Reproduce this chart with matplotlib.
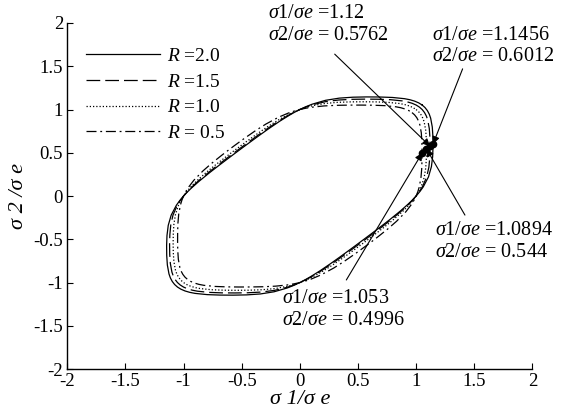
"""Hosford type yield loci for several R values, with the annotated plane-strain points."""
import numpy as np
import matplotlib
matplotlib.use("Agg")
import matplotlib.pyplot as plt
from matplotlib.ticker import FormatStrFormatter

plt.rcParams['font.family'] = ['Liberation Serif', 'DejaVu Serif']
plt.rcParams['axes.unicode_minus'] = False
plt.rcParams['mathtext.fontset'] = 'custom'
plt.rcParams['mathtext.it'] = 'Liberation Serif:italic'
plt.rcParams['mathtext.rm'] = 'Liberation Serif'

# One quarter of each locus: from the equibiaxial corner
# (sigma1 = sigma2) round the right side down to pure shear (sigma1 = -sigma2).
S1_R20 = [1.05199, 1.07650, 1.09700, 1.11316, 1.12517, 1.13918, 1.14464, 1.14554, 1.14239, 1.13166, 1.10645,
          1.06151, 1.03227, 1.0, 0.96605, 0.93162, 0.86469, 0.77493, 0.69963, 0.61822, 0.56832, 0.52573]
S2_R20 = [1.05199, 1.02268, 0.98730, 0.94619, 0.90014, 0.79743, 0.68678, 0.57277, 0.45696, 0.33950, 0.22129,
          0.10615, 0.05161, 0.0, -0.04830, -0.09316, -0.17294, -0.27123, -0.34982, -0.43275, -0.48307, -0.52573]
S1_R15 = [1.02829, 1.05225, 1.07228, 1.08808, 1.09982, 1.11351, 1.11889, 1.12000, 1.11779, 1.10978, 1.09033,
          1.05366, 1.02860, 1.0, 0.96900, 0.93678, 0.87242, 0.78380, 0.70834, 0.62622, 0.57574, 0.53262]
S2_R15 = [1.02829, 0.99964, 0.96505, 0.92487, 0.87986, 0.77946, 0.67133, 0.56000, 0.44712, 0.33293, 0.21807,
          0.10537, 0.05143, 0.0, -0.04845, -0.09368, -0.17448, -0.27433, -0.35417, -0.43835, -0.48938, -0.53262]
S1_R10 = [1.0, 1.02330, 1.04278, 1.05815, 1.06957, 1.08289, 1.08815, 1.08945, 1.08815, 1.08289, 1.06957,
          1.04278, 1.02330, 1.0, 0.97359, 0.94504, 0.88532, 0.79906, 0.72353, 0.64025, 0.58879, 0.54472]
S2_R10 = [1.0, 0.97214, 0.93850, 0.89943, 0.85566, 0.75802, 0.65289, 0.54473, 0.43526, 0.32487, 0.21391,
          0.10428, 0.05117, 0.0, -0.04868, -0.09450, -0.17706, -0.27967, -0.36177, -0.44818, -0.50047, -0.54472]
S1_R05 = [0.96468, 0.98716, 1.00595, 1.02077, 1.03179, 1.04464, 1.04976, 1.05122, 1.05081, 1.04825, 1.04145,
          1.02667, 1.01499, 1.0, 0.98171, 0.96043, 0.91143, 0.83226, 0.75765, 0.67229, 0.61867, 0.57249]
S2_R05 = [0.96468, 0.93780, 0.90536, 0.86765, 0.82543, 0.73125, 0.62986, 0.52561, 0.42032, 0.31448, 0.20829,
          0.10267, 0.05075, 0.0, -0.04909, -0.09604, -0.18229, -0.29129, -0.37883, -0.47060, -0.52587, -0.57249]

LEGEND_LABELS = [r'$\mathit{R}$ =2.0', r'$\mathit{R}$ =1.5', r'$\mathit{R}$ =1.0', r'$\mathit{R}$ = 0.5']

# annotated points: sigma1/sigma_e, sigma2/sigma_e
POINT_S1 = [1.1456, 1.12, 1.0894, 1.053]
POINT_S2 = [0.6012, 0.5762, 0.544, 0.4996]

TICKS = [-2, -1.5, -1, -0.5, 0, 0.5, 1, 1.5, 2]


def closed_locus(s1, s2):
    """Mirror the quarter about sigma1 = -sigma2 and then about the origin."""
    x = np.array(s1)
    y = np.array(s2)
    half_x = np.concatenate([x, -y[::-1][1:]])
    half_y = np.concatenate([y, -x[::-1][1:]])
    return np.concatenate([half_x, -half_x[1:]]), np.concatenate([half_y, -half_y[1:]])


def label(text1, text2):
    """Two line annotation, italic ratio and upright value."""
    return r'$\mathit{\sigma 1/\sigma e}$ ' + text1 + '\n' + r'$\mathit{\sigma 2/\sigma e}$ ' + text2


fig = plt.figure(figsize=(5.7, 4.18), dpi=100)
ax = fig.add_axes([0.118, 0.117, 0.816, 0.828])

styles = [dict(linestyle='-'),
          dict(dashes=(11, 4)),
          dict(dashes=(1, 1.6)),
          dict(dashes=(8, 3, 1.5, 3))]
quarters = [(S1_R20, S2_R20), (S1_R15, S2_R15), (S1_R10, S2_R10), (S1_R05, S2_R05)]
for (s1, s2), style, name in zip(quarters, styles, LEGEND_LABELS):
    lx, ly = closed_locus(s1, s2)
    ax.plot(lx, ly, color='black', linewidth=0.9, label=name, **style)

ax.plot(POINT_S1, POINT_S2, 'o', color='black', markersize=4.5, zorder=5)

ann = dict(fontsize=14.5, va='top', ha='left', linespacing=1.2)
arrow = dict(arrowstyle='-|>', color='black', linewidth=0.8, mutation_scale=11, shrinkA=0, shrinkB=0)

# label texts and arrows
ax.text(-0.27, 2.22, label('=1.12', '= 0.5762'), **ann)
ax.annotate('', xy=(POINT_S1[1], POINT_S2[1]), xytext=(0.30, 1.64), arrowprops=arrow)

ax.text(1.135, 1.97, label('=1.1456', '= 0.6012'), **ann)
ax.annotate('', xy=(POINT_S1[0], POINT_S2[0]), xytext=(1.40, 1.47), arrowprops=arrow)

ax.text(1.16, -0.29, label('=1.0894', '= 0.544'), **ann)
ax.annotate('', xy=(POINT_S1[2], POINT_S2[2]), xytext=(1.42, -0.22), arrowprops=arrow)

ax.text(-0.15, -1.08, label('=1.053', '= 0.4996'), **ann)
ax.annotate('', xy=(POINT_S1[3], POINT_S2[3]), xytext=(0.40, -0.97), arrowprops=arrow)

ax.set_xlim(-2, 2)
ax.set_ylim(-2, 2)
ax.set_xticks(TICKS)
ax.set_yticks(TICKS)
ax.xaxis.set_major_formatter(FormatStrFormatter('%g'))
ax.yaxis.set_major_formatter(FormatStrFormatter('%g'))
ax.tick_params(direction='in', length=4, width=0.8, labelsize=13.5, pad=3)
ax.spines['top'].set_visible(False)
ax.spines['right'].set_visible(False)
ax.spines['left'].set_linewidth(1.0)
ax.spines['bottom'].set_linewidth(1.0)

ax.set_xlabel('σ 1/σ e', fontsize=16, fontstyle='italic', labelpad=0)
ax.set_ylabel('σ 2 /σ e', fontsize=16, fontstyle='italic', labelpad=4)

ax.legend(loc='upper left', bbox_to_anchor=(0.04, 0.93), frameon=False, fontsize=14,
          handlelength=3.8, handletextpad=0.35, labelspacing=0.42, borderpad=0, borderaxespad=0)

fig.savefig('out.png', dpi=100)
